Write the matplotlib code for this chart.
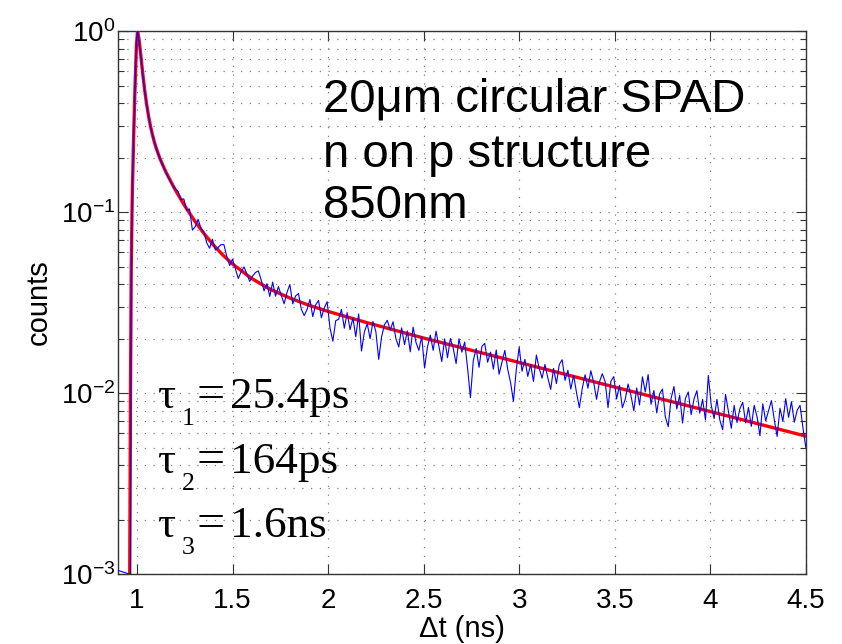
import numpy as np
import matplotlib
matplotlib.use("Agg")
import matplotlib.pyplot as plt
from matplotlib.ticker import LogLocator, FixedLocator, NullFormatter

plt.rcParams['font.family'] = ['Liberation Sans', 'DejaVu Sans']

# ---- data (log10 of normalized counts) ----
rise_t = [0.90, 0.915, 0.93, 0.945, 0.96, 0.965, 0.969, 0.975, 0.982, 0.99,
          0.997, 1.003, 1.01, 1.02, 1.03, 1.04, 1.05, 1.06, 1.07, 1.085,
          1.10, 1.115, 1.13, 1.145, 1.16, 1.175, 1.19]
rise_log = [-2.98, -2.985, -2.99, -2.995, -3.0, -3.3, -1.5, -0.9, -0.6, -0.3,
            -0.06, 0.0, -0.05, -0.14, -0.24, -0.33, -0.40, -0.47, -0.525, -0.59,
            -0.645, -0.69, -0.73, -0.765, -0.80, -0.83, -0.86]

tail_start, tail_stop, tail_step = 1.2, 4.5, 0.015
tail_log = [
    -0.87, -0.886, -0.932, -0.927, -0.99, -0.983, -1.10, -1.08, -1.04, -1.09,
    -1.11, -1.17, -1.20, -1.15, -1.21, -1.195, -1.18, -1.18, -1.245, -1.295,
    -1.26, -1.313, -1.367, -1.33, -1.303, -1.343, -1.383, -1.353, -1.334, -1.325,
    -1.375, -1.435, -1.396, -1.466, -1.387, -1.465, -1.412, -1.46, -1.507, -1.444,
    -1.40, -1.507, -1.464, -1.45, -1.537, -1.572, -1.538, -1.483, -1.578, -1.513,
    -1.488, -1.584, -1.53, -1.495, -1.64, -1.714, -1.60, -1.593, -1.538, -1.642,
    -1.556, -1.65, -1.585, -1.689, -1.563, -1.768, -1.662, -1.617, -1.70, -1.605,
    -1.66, -1.814, -1.689, -1.623, -1.598, -1.652, -1.606, -1.70, -1.745, -1.64,
    -1.733, -1.657, -1.772, -1.636, -1.72, -1.764, -1.688, -1.862, -1.746, -1.68,
    -1.764, -1.658, -1.742, -1.826, -1.701, -1.805, -1.699, -1.753, -1.837, -1.70,
    -1.774, -1.718, -1.862, -2.026, -1.82, -1.754, -1.858, -1.742, -1.726, -1.83,
    -1.774, -1.868, -1.762, -1.896, -1.83, -1.764, -1.868, -1.942, -2.046, -1.87,
    -1.746, -1.88, -1.814, -1.908, -1.842, -1.936, -1.79, -1.864, -1.918, -1.842,
    -1.916, -1.98, -1.864, -1.948, -1.842, -1.816, -1.93, -1.874, -1.978, -1.902,
    -1.997, -2.081, -1.975, -1.899, -1.973, -1.877, -1.941, -2.035, -1.939, -1.893,
    -1.937, -2.081, -1.935, -1.909, -2.033, -1.957, -2.081, -2.035, -1.95, -2.014,
    -2.098, -1.972, -2.066, -1.91, -1.994, -1.898, -2.062, -1.986, -2.11, -2.004,
    -1.978, -2.132, -2.186, -2.03, -1.964, -2.088, -2.012, -2.166, -2.03, -1.994,
    -2.119, -2.033, -1.987, -2.111, -2.035, -2.149, -1.903, -2.067, -2.141, -2.035,
    -2.149, -2.203, -2.007, -2.101, -2.195, -2.069, -2.163, -2.087, -2.051, -2.165,
    -2.08, -2.184, -2.068, -2.132, -2.236, -2.06, -2.154, -2.098, -2.042, -2.146,
    -2.24, -2.084, -2.157, -2.031, -2.134, -2.048, -2.161, -2.095, -2.068, -2.192, -2.30,
]

fit_t = [0.958, 0.962, 0.966, 0.970, 0.975, 0.982, 0.990, 0.997, 1.003, 1.01,
         1.02, 1.03, 1.04, 1.05, 1.06, 1.07, 1.08, 1.09, 1.10, 1.12,
         1.15, 1.2, 1.25, 1.3, 1.35, 1.4, 1.45, 1.5, 1.6, 1.7,
         1.8, 1.9, 2.0, 2.2, 2.5, 3.0, 3.5, 4.0, 4.5]
fit_log = [-3.5, -3.0, -2.0, -1.3, -0.93, -0.6, -0.3, -0.08, 0.0, -0.04,
           -0.133, -0.234, -0.324, -0.401, -0.466, -0.522, -0.569, -0.610, -0.645, -0.704,
           -0.776, -0.877, -0.966, -1.046, -1.118, -1.182, -1.238, -1.287, -1.367, -1.428,
           -1.475, -1.515, -1.549, -1.610, -1.696, -1.831, -1.967, -2.102, -2.238]

x_ticks = [1, 1.5, 2, 2.5, 3, 3.5, 4, 4.5]
x_tick_labels = ['1', '1.5', '2', '2.5', '3', '3.5', '4', '4.5']

title_lines = ["20\u03bcm circular SPAD", "n on p structure", "850nm"]
tau_subs = ['1', '2', '3']
tau_values = ['25.4ps', '164ps', '1.6ns']

# ---- assemble ----
tail_t = np.round(np.arange(tail_start, tail_stop + 1e-9, tail_step), 4)
data_t = np.concatenate([rise_t, tail_t])
data_y = 10.0 ** np.array(rise_log + tail_log)
fit_y = 10.0 ** np.array(fit_log)

fig = plt.figure(figsize=(8.42, 6.44), dpi=100)
ax = fig.add_axes([0.140, 0.1087, 0.817, 0.843])

ax.plot(fit_t, fit_y, color='#ff0000', lw=2.4, zorder=3)
ax.plot(data_t, data_y, color='#0000ff', lw=0.8, zorder=4)

ax.set_yscale('log')
ax.set_xlim(0.9, 4.5)
ax.set_ylim(1e-3, 1)
ax.xaxis.set_major_locator(FixedLocator(x_ticks))
ax.set_xticklabels(x_tick_labels)
ax.yaxis.set_major_locator(LogLocator(base=10, numticks=10))
ax.yaxis.set_minor_locator(LogLocator(base=10, subs=np.arange(2, 10), numticks=20))
ax.yaxis.set_minor_formatter(NullFormatter())

grid_style = dict(linestyle=(0, (1, 6)), color='#808080', lw=0.9)
ax.grid(True, which='major', axis='both', **grid_style)
ax.grid(True, which='minor', axis='y', **grid_style)

ax.tick_params(which='both', direction='in', top=True, right=True,
               labelsize=20, color='#333333')
ax.tick_params(which='major', length=7, width=0.8)
ax.tick_params(which='minor', length=4, width=0.8)
ax.tick_params(axis='x', pad=10)
ax.tick_params(axis='y', pad=2)
for s in ax.spines.values():
    s.set_color('#333333')
    s.set_linewidth(1.0)

ax.set_ylabel('counts', fontsize=21, labelpad=6)
ax.set_xlabel('\u0394t (ns)', fontsize=21, labelpad=1)

title_y = [0.851, 0.7495, 0.6556]
for line, yy in zip(title_lines, title_y):
    ax.text(0.298, yy, line, transform=ax.transAxes, fontsize=34,
            ha='left', va='baseline', color='black', zorder=6)

serif = ['Liberation Serif', 'DejaVu Serif']
tau_base = [0.3057, 0.186, 0.0681]
for sub, val, yy in zip(tau_subs, tau_values, tau_base):
    ax.text(0.0567, yy, '\u03c4', transform=ax.transAxes, fontsize=32.5,
            family=serif, ha='left', va='baseline', zorder=6)
    ax.text(0.093, yy - 0.0313, sub, transform=ax.transAxes, fontsize=18.5,
            family=serif, ha='left', va='baseline', zorder=6)
    ax.text(0.1148, yy, '=', transform=ax.transAxes, fontsize=36,
            family=serif, ha='left', va='baseline', zorder=6)
    ax.text(0.1628, yy, val, transform=ax.transAxes, fontsize=32.5,
            family=serif, ha='left', va='baseline', zorder=6)

fig.savefig('out.png', dpi=100)
